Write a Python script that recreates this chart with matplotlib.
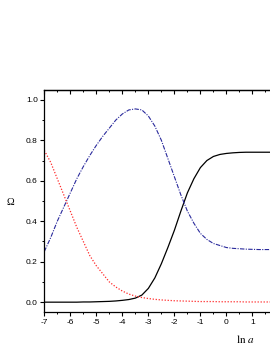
import matplotlib
matplotlib.use("Agg")
import matplotlib.pyplot as plt
from matplotlib.ticker import MultipleLocator, FixedLocator

plt.rcParams['font.family'] = ['Liberation Sans', 'DejaVu Sans']
plt.rcParams['mathtext.fontset'] = 'stix'
plt.rcParams['axes.unicode_minus'] = False

# ln a values
ln_a = [-7.0, -6.75, -6.5, -6.25, -6.0, -5.75, -5.5, -5.25, -5.0, -4.75,
        -4.5, -4.25, -4.0, -3.75, -3.5, -3.25, -3.0, -2.75, -2.5, -2.25,
        -2.0, -1.75, -1.5, -1.25, -1.0, -0.75, -0.5, -0.25, 0.0, 0.25,
        0.5, 0.75, 1.0, 1.25, 1.5, 1.75, 2.0]

# solid black curve
omega_black = [0.0, 0.0, 0.0, 0.0, 0.0, 0.0, 0.001, 0.001, 0.002, 0.003,
               0.004, 0.006, 0.009, 0.013, 0.02, 0.035, 0.068, 0.12, 0.19, 0.27,
               0.355, 0.45, 0.54, 0.61, 0.665, 0.70, 0.72, 0.73, 0.735, 0.738,
               0.74, 0.741, 0.741, 0.741, 0.741, 0.741, 0.741]

# blue dash-dot curve
omega_blue = [0.25, 0.32, 0.40, 0.47, 0.54, 0.61, 0.67, 0.725, 0.775, 0.82,
              0.86, 0.90, 0.93, 0.95, 0.955, 0.95, 0.92, 0.87, 0.80, 0.71,
              0.62, 0.53, 0.45, 0.39, 0.34, 0.31, 0.29, 0.28, 0.27, 0.266,
              0.264, 0.262, 0.261, 0.26, 0.26, 0.26, 0.26]

# red dotted curve
omega_red = [0.75, 0.69, 0.61, 0.53, 0.45, 0.37, 0.30, 0.23, 0.18, 0.14,
             0.10, 0.075, 0.055, 0.04, 0.03, 0.023, 0.018, 0.014, 0.011, 0.009,
             0.007, 0.006, 0.005, 0.004, 0.003, 0.003, 0.003, 0.002, 0.002, 0.002,
             0.002, 0.001, 0.001, 0.001, 0.001, 0.001, 0.001]

# only the ticks that fall inside the visible crop
x_major = [-7, -6, -5, -4, -3, -2, -1, 0, 1]
x_minor = [-6.5, -5.5, -4.5, -3.5, -2.5, -1.5, -0.5, 0.5, 1.5]

fig = plt.figure(figsize=(2.7, 3.49), dpi=100)
# the reference is a crop of a wider chart, so the axes run past the right edge
ax = fig.add_axes([0.164, 0.1052, 1.484, 0.6378])

ax.plot(ln_a, omega_black, color='black', lw=0.9)
ax.plot(ln_a, omega_blue, color='#2a2a9c', lw=0.8, ls='-.', dashes=(4, 1.2, 1, 1.2))
ax.plot(ln_a, omega_red, color='#ff2a2a', lw=0.9, ls=(0, (1, 1.4)))

ax.set_xlim(-7, 8.4)
ax.set_ylim(-0.05, 1.05)

ax.xaxis.set_major_locator(FixedLocator(x_major))
ax.xaxis.set_minor_locator(FixedLocator(x_minor))
ax.yaxis.set_major_locator(MultipleLocator(0.2))
ax.yaxis.set_minor_locator(MultipleLocator(0.1))
ax.yaxis.set_major_formatter(plt.FormatStrFormatter('%.1f'))

ax.tick_params(which='major', direction='out', length=2.7, width=0.8,
               labelsize=6, pad=2.0)
ax.tick_params(which='minor', direction='out', length=1.5, width=0.7)
ax.spines['right'].set_visible(False)
for s in ['left', 'bottom', 'top']:
    ax.spines[s].set_linewidth(0.9)

top = ax.secondary_xaxis('top')
top.xaxis.set_major_locator(FixedLocator(x_major))
top.xaxis.set_minor_locator(FixedLocator(x_minor))
top.tick_params(which='major', direction='in', length=3, width=0.8, labeltop=False)
top.tick_params(which='minor', direction='in', length=1.5, width=0.7)
top.spines['top'].set_linewidth(0.9)

ax.set_xlabel(r'$\mathrm{ln}\ a$', fontsize=8)
ax.xaxis.set_label_coords((245 - 44.3) / 400.7, -0.095)
ax.set_ylabel('Ω', fontsize=7.5, rotation=0, family=['Liberation Serif', 'DejaVu Serif'],
              ha='center', va='center')
ax.yaxis.set_label_coords(-0.085, 0.491)

fig.savefig('out.png', dpi=100)
